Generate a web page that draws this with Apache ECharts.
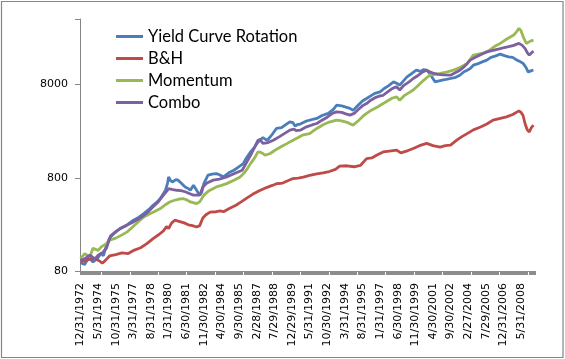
<!DOCTYPE html>
<html><head><meta charset="utf-8">
<script src="https://cdn.jsdelivr.net/npm/echarts@6/dist/echarts.min.js"></script>
<style>html,body{margin:0;padding:0;background:#fff}#c{width:565px;height:359px}</style>
</head><body><div id="c"></div>
<script>
const seriesNames = ['Yield Curve Rotation', 'B&H', 'Momentum', 'Combo'];
const tickLabels = ['12/31/1972','5/31/1974','10/31/1975','3/31/1977','8/31/1978','1/31/1980','6/30/1981','11/30/1982','4/30/1984','9/30/1985','2/28/1987','7/29/1988','12/29/1989','5/31/1991','10/30/1992','3/31/1994','8/31/1995','1/31/1997','6/30/1998','11/30/1999','4/30/2001','9/30/2002','2/27/2004','7/29/2005','12/31/2006','5/31/2008'];
const yTicks = [80, 800, 8000];

const ycrMonths = [0,4,8,12,16,20,22,25,28,33,38,44,51,56,61,66,70,74,77,80,82,84,85,87,89,92,94,97,101,104,106,109,112,115,117,119,123,127,131,134,138,143,148,152,157,160,164,168,171,173,176,180,184,189,194,198,202,205,207,209,212,218,223,228,233,239,244,247,252,256,260,263,268,272,276,280,284,289,293,297,302,305,308,312,315,320,324,328,331,334,337,340,342,346,350,353,357,362,366,370,373,376,379,383,387,392,396,400,405,409,413,417,421,424,427,430,432,433,435,437];
const ycrValues = [98,94,112,100,108,125,116,150,180,205,228,245,280,300,330,365,405,440,479,540,586,700,814,740,719,760,752,700,636,610,586,662,586,519,560,690,850,870,884,860,814,900,960,1030,1130,1300,1508,1700,1900,2014,2150,2000,2250,2690,2750,2950,3170,3100,2850,2950,3000,3233,3350,3440,3700,3907,4300,4770,4700,4550,4410,4200,4800,5300,5630,6000,6400,6620,7200,7700,8490,8200,7840,8800,9600,10500,11330,11000,11500,11330,10400,9200,8490,8700,8900,9000,9220,9500,10000,10900,11330,11800,12800,13200,13800,14500,15500,16000,16800,16200,15700,15500,14500,14000,13400,12000,10800,10450,11200,11330];

const bhMonths = [0,5,10,14,18,21,24,28,34,40,46,52,58,64,70,76,80,83,85,88,91,95,100,104,108,112,115,118,121,125,131,135,138,144,150,155,160,166,173,180,185,189,195,200,205,210,215,221,228,234,240,246,250,257,264,270,276,281,286,292,298,305,309,316,321,327,334,340,347,352,357,363,368,373,379,386,392,398,405,411,417,423,425,427,429,431,433,435,437];
const bhValues = [100,104,108,108,103,97,104,116,120,125,123,134,142,157,178,198,215,240,228,262,280,272,262,250,245,237,245,295,320,342,345,352,345,375,405,440,479,530,583,630,660,688,700,740,782,790,810,846,880,900,930,980,1060,1072,1046,1080,1280,1300,1400,1508,1540,1575,1474,1560,1640,1760,1860,1760,1700,1760,1780,2014,2200,2370,2600,2790,3000,3300,3450,3580,3800,4150,4000,3700,3000,2600,2470,2750,2915];

const momMonths = [0,4,9,12,17,20,25,28,34,40,45,50,55,61,66,71,77,82,86,90,95,99,103,106,112,115,119,124,131,136,141,148,154,158,161,164,168,171,173,176,178,183,188,193,199,205,210,214,221,228,234,240,247,252,258,263,268,272,276,281,287,292,296,301,305,308,312,317,321,326,331,334,337,342,347,353,360,366,370,373,376,379,384,388,392,396,400,405,409,413,418,421,423,425,427,430,432,434,437];
const momValues = [108,123,113,140,133,145,157,171,180,195,210,235,265,303,325,345,373,410,439,455,470,478,460,439,422,440,519,580,636,660,690,750,814,900,1000,1130,1300,1500,1508,1450,1390,1450,1580,1700,1850,2014,2150,2280,2370,2690,2950,3150,3300,3250,3100,2920,3250,3600,3900,4250,4600,4970,5300,5700,5860,5400,6000,6500,6940,7800,8820,9400,10000,10200,10450,10800,11330,12100,12800,13400,14800,16400,16800,17200,17770,19000,20500,21900,23500,25000,26900,29500,31700,30000,26000,21900,22500,23200,23750];

const comboMonths = [0,4,9,14,17,21,25,29,35,40,45,50,55,61,66,70,75,80,83,85,88,93,97,101,105,109,115,118,122,128,134,141,148,152,156,160,165,168,171,173,176,181,186,192,197,202,206,208,212,218,224,228,233,238,243,247,252,256,260,264,268,272,276,280,285,289,292,296,300,303,305,308,312,317,321,326,330,334,337,341,345,350,357,362,366,370,373,376,380,384,388,392,396,400,405,409,413,418,421,423,426,429,431,433,435,437];
const comboValues = [104,108,118,108,118,125,140,190,215,232,249,265,285,314,350,390,440,519,570,611,600,586,580,565,540,519,519,636,700,752,770,814,880,920,960,1150,1450,1700,2000,2050,1860,1900,2014,2200,2380,2580,2650,2550,2580,2800,2950,3040,3300,3550,3900,4050,4000,3850,3740,3900,4300,4700,4970,5400,5800,6000,6100,6600,7100,7400,7520,6940,7800,8500,9220,10000,10800,11330,10900,10450,10200,10100,10000,10700,11300,12290,13300,14500,15400,16200,17000,17770,18200,18700,19280,19800,20200,20900,21500,21900,21000,19280,17500,16400,17300,18100];

const monthCount = 439;
const categories = [];
for (let i = 0; i < monthCount; i++) {
  const mm = (11 + i) % 12 + 1;
  const yy = 1972 + Math.floor((11 + i) / 12);
  categories.push(mm + '/' + yy);
}
function pairs(ms, vs) { return ms.map((m, i) => [m, vs[i]]); }

const colors = ['#4A7EBB', '#BE4B48', '#98B954', '#7D60A0'];
const datasets = [pairs(ycrMonths, ycrValues), pairs(bhMonths, bhValues), pairs(momMonths, momValues), pairs(comboMonths, comboValues)];

const chart = echarts.init(document.getElementById('c'), null, {renderer: 'canvas'});
chart.setOption({
  animation: false,
  color: colors,
  graphic: [{type: 'rect', shape: {x: 1.5, y: 1.5, width: 561.5, height: 356}, style: {fill: 'none', stroke: '#868686', lineWidth: 1.2}, silent: true}],
  grid: {left: 80, right: 30, top: 19, bottom: 88, containLabel: false, outerBoundsMode: 'none'},
  legend: {
    orient: 'vertical', left: 111, top: 22, itemWidth: 27, itemHeight: 3, icon: 'rect', itemGap: 3,
    data: seriesNames,
    textStyle: {fontFamily: 'Lato', fontSize: 16.5, color: '#000', lineHeight: 19}
  },
  xAxis: {
    type: 'category', data: categories, boundaryGap: true,
    axisLine: {lineStyle: {color: '#868686', width: 1}},
    axisTick: {show: true, interval: 0, length: 4, lineStyle: {color: '#8c8c8c', width: 1}},
    axisLabel: {
      interval: 16, rotate: 90, margin: 12, fontFamily: 'DejaVu Sans', fontSize: 11, color: '#000',
      formatter: (v, idx) => (idx % 17 === 0 && tickLabels[idx / 17]) ? tickLabels[idx / 17] : ''
    },
    splitLine: {show: false}
  },
  yAxis: {
    type: 'log', logBase: 10, min: 80, max: 40000, interval: 1,
    axisLine: {show: true, lineStyle: {color: '#868686'}},
    axisTick: {show: true, length: 5, lineStyle: {color: '#868686'}},
    axisLabel: {margin: 12, fontFamily: 'DejaVu Sans', fontSize: 11, color: '#000',
      formatter: function (v) {
        const n = Number(v);
        const t = yTicks.find(t => Math.abs(n - t) / t < 0.03);
        return t ? String(t) : '';
      }},
    splitLine: {show: false}
  },
  series: seriesNames.map((n, i) => ({
    name: n, type: 'line', data: datasets[i], showSymbol: false, symbol: 'none',
    lineStyle: {width: 2.8, color: colors[i]}, itemStyle: {color: colors[i]}
  }))
});
</script>
</body></html>
